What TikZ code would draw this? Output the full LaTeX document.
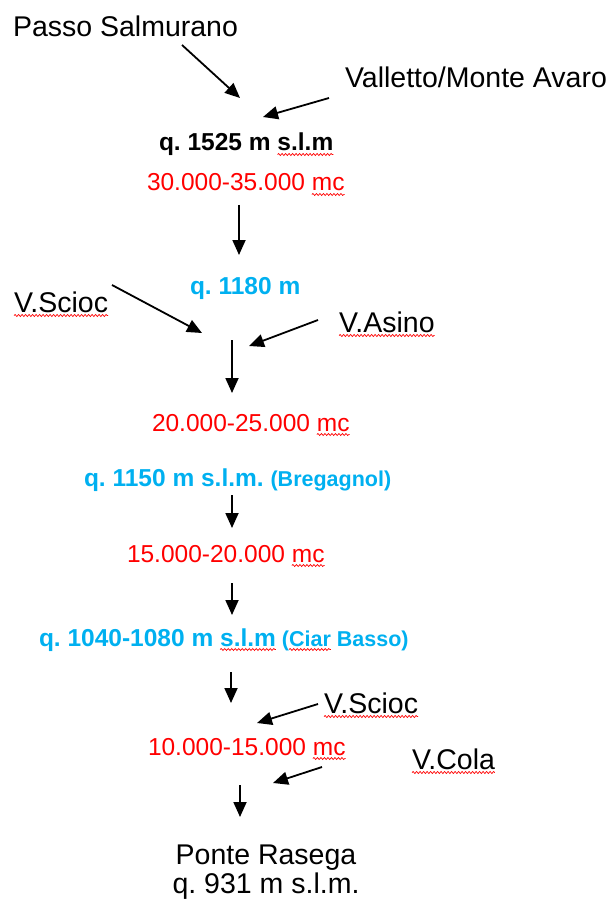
\documentclass[tikz,border=0pt]{standalone}
\usepackage{fontspec}
\setmainfont{Liberation Sans}
\usetikzlibrary{arrows.meta,decorations.pathmorphing}
\definecolor{cyanq}{HTML}{00B0F0}
\definecolor{redq}{HTML}{FF0000}
\frenchspacing
\begin{document}
\begin{tikzpicture}[x=1pt,y=-1pt,
  txt/.style={inner sep=0pt, outer sep=0pt, anchor=base west},
  big/.style={txt, font=\fontsize{28.5}{34}\selectfont},
  qty/.style={txt, text=redq, font=\fontsize{24.5}{29}\selectfont},
  quota/.style={txt, font=\fontsize{24.5}{29}\selectfont\bfseries},
  small/.style={txt, font=\fontsize{21.5}{26}\selectfont\bfseries},
  flow/.style={-{Triangle[length=15pt,width=13pt]}, line width=1.8pt},
  squig/.style={draw=redq, line width=0.7pt, decorate, decoration={snake, segment length=3.5pt, amplitude=1pt}}]
\useasboundingbox (0,0) rectangle (611,901);
% labels
\node[big] (passo) at (13,37) {Passo Salmurano};
\node[big] (valletto) at (345,88) {Valletto/Monte Avaro};
\node[quota] (q1525a) at (159,151) {q. 1525 m\kern0.278em};
\node[quota] (q1525b) at (q1525a.base east) {s.l.m};
\node[qty] (v30a) at (147,191) {30.000-35.000\kern0.278em};
\node[qty] (v30b) at (v30a.base east) {mc};
\node[quota, text=cyanq] (q1180) at (190,294) {q. 1180 m};
\node[big] (scioc1) at (14,312) {V.Scioc};
\node[big] (asino) at (339,332) {V.Asino};
\node[qty] (v20a) at (152,431) {20.000-25.000\kern0.278em};
\node[qty] (v20b) at (v20a.base east) {mc};
\node[quota, text=cyanq] (q1150a) at (84,486) {q. 1150 m s.l.m.\kern0.278em};
\node[small, text=cyanq] (q1150b) at (q1150a.base east) {(Bregagnol)};
\node[qty] (v15a) at (127,562) {15.000-20.000\kern0.278em};
\node[qty] (v15b) at (v15a.base east) {mc};
\node[quota, text=cyanq] (q1040a) at (39,646) {q. 1040-1080 m\kern0.278em};
\node[quota, text=cyanq] (q1040b) at (q1040a.base east) {s.l.m};
\node[small, text=cyanq] (q1040c) at (q1040b.base east) {\kern0.278em(};
\node[small, text=cyanq] (q1040d) at (q1040c.base east) {Ciar};
\node[small, text=cyanq] (q1040e) at (q1040d.base east) {\kern0.278em Basso)};
\node[big] (scioc2) at (324,713) {V.Scioc};
\node[qty] (v10a) at (148,755) {10.000-15.000\kern0.278em};
\node[qty] (v10b) at (v10a.base east) {mc};
\node[big] (cola) at (412,769) {V.Cola};
\node[big, anchor=center, align=center, font=\fontsize{28.5}{29}\selectfont] (ponte) at (266,872) {Ponte Rasega\\q. 931 m s.l.m.};
% spell-check squiggles
\foreach \n in {q1525b,v30b,scioc1,asino,v20b,v15b,q1040b,q1040d,scioc2,v10b,cola}
  \draw[squig] ([yshift=-3.5pt]\n.base west) -- ([yshift=-3.5pt]\n.base east);
% arrow end points
\coordinate (a1s) at (182,45);  \coordinate (a1e) at (240,98);
\coordinate (a2s) at (329,98);  \coordinate (a2e) at (263,117);
\coordinate (a3s) at (239,205); \coordinate (a3e) at (239,255);
\coordinate (a4s) at (112,285); \coordinate (a4e) at (202,333);
\coordinate (a5s) at (318,320); \coordinate (a5e) at (249,346);
\coordinate (a6s) at (232,340); \coordinate (a6e) at (232,393);
\coordinate (a7s) at (232,495); \coordinate (a7e) at (232,528);
\coordinate (a8s) at (232,583); \coordinate (a8e) at (232,615);
\coordinate (a9s) at (231,672); \coordinate (a9e) at (231,703);
\coordinate (a10s) at (318,704); \coordinate (a10e) at (257,723);
\coordinate (a11s) at (322,767); \coordinate (a11e) at (273,783);
\coordinate (a12s) at (240,785); \coordinate (a12e) at (240,817);
\foreach \i in {1,...,12}
  \draw[flow] (a\i s) -- (a\i e);
\end{tikzpicture}
\end{document}
